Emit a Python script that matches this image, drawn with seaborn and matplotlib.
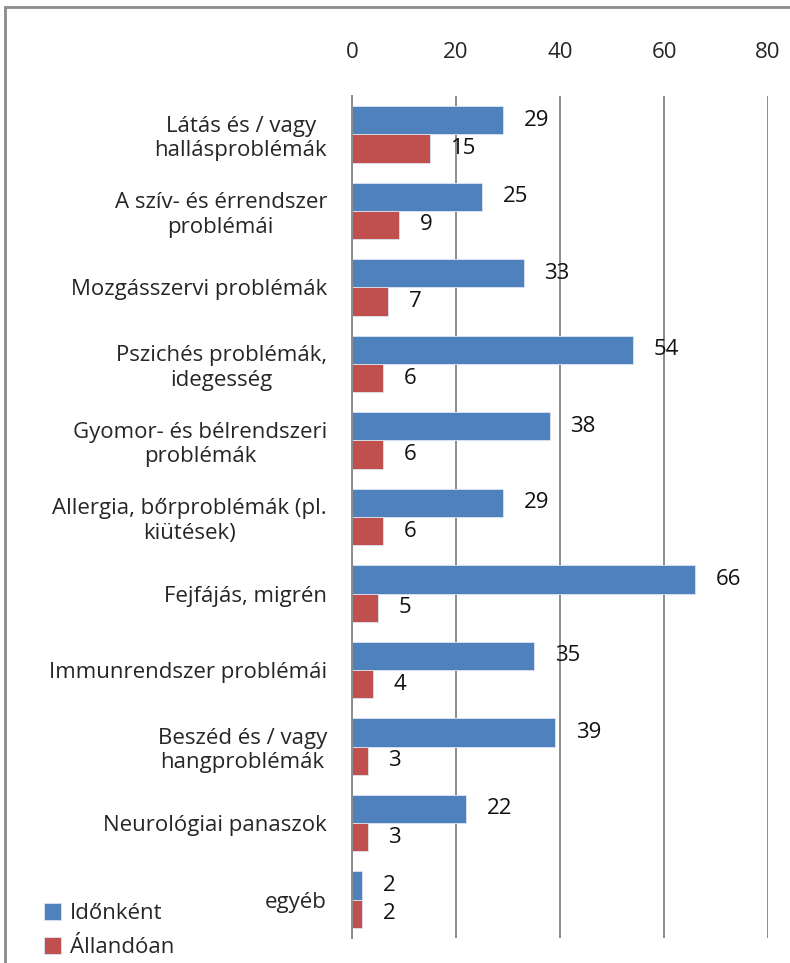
import pandas as pd
import matplotlib.pyplot as plt
import seaborn as sns
from matplotlib.patches import Rectangle

categories = [
    "Látás és / vagy\nhallásproblémák",
    "A szív- és érrendszer\nproblémái",
    "Mozgásszervi problémák",
    "Pszichés problémák,\nidegesség",
    "Gyomor- és bélrendszeri\nproblémák",
    "Allergia, bőrproblémák (pl.\nkiütések)",
    "Fejfájás, migrén",
    "Immunrendszer problémái",
    "Beszéd és / vagy\nhangproblémák",
    "Neurológiai panaszok",
    "egyéb",
]
idonkent = [29, 25, 33, 54, 38, 29, 66, 35, 39, 22, 2]
allandoan = [15, 9, 7, 6, 6, 6, 5, 4, 3, 3, 2]
series_names = ["Időnként", "Állandóan"]
x_ticks = [0, 20, 40, 60, 80]

df = pd.DataFrame({
    "kategoria": categories * 2,
    "ertek": idonkent + allandoan,
    "sorozat": [series_names[0]] * len(categories) + [series_names[1]] * len(categories),
})

sns.set_style("white")
plt.rcParams["font.family"] = ["Open Sans", "DejaVu Sans"]
fs = 16

fig = plt.figure(figsize=(7.9, 9.63), dpi=100)
ax = fig.add_axes([0.4456, 0.026, 0.5266, 0.8743])

sns.barplot(data=df, y="kategoria", x="ertek", hue="sorozat", orient="h",
            palette=["#4F81BD", "#C0504D"], width=0.74, gap=0,
            saturation=1, ax=ax, legend=True, edgecolor="#dbe5f1", linewidth=0.6)

for cont in ax.containers:
    ax.bar_label(cont, padding=15, fontsize=fs, color="#111111")

ax.set_xlim(0, 80)
ax.set_xticks(x_ticks)
ax.xaxis.tick_top()
ax.tick_params(axis="x", length=0, pad=24, labelsize=fs)
ax.tick_params(axis="y", length=0, pad=18, labelsize=fs)
for lab in ax.get_yticklabels():
    lab.set_multialignment("center")
ax.set_xlabel("")
ax.set_ylabel("")
ax.grid(axis="x", color="#8c8c8c", linewidth=1.4)
ax.set_axisbelow(True)
for s in ["top", "right", "bottom"]:
    ax.spines[s].set_visible(False)
ax.spines["left"].set_color("#8c8c8c")
ax.spines["left"].set_linewidth(1.4)

handles, labels = ax.get_legend_handles_labels()
ax.get_legend().remove()
fig.legend(handles, labels, loc="lower left", bbox_to_anchor=(0.03, -0.016),
           frameon=False, fontsize=fs, handlelength=0.8, handleheight=0.8,
           handletextpad=0.4, labelspacing=0.6)

fig.patches.append(Rectangle((0.0063, -0.2), 1.5, 1.1927, transform=fig.transFigure,
                             fill=False, edgecolor="#8c8c8c", linewidth=2))

fig.savefig("out.png", dpi=100)
